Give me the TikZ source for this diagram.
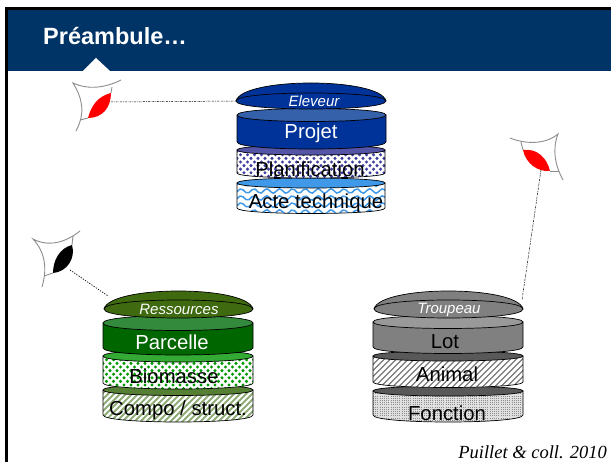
\documentclass[tikz,border=0pt]{standalone}
\usepackage{fontspec}
\setmainfont{Liberation Sans}
\newfontfamily\timesfont{Liberation Serif}
\definecolor{headblue}{HTML}{003366}
\definecolor{blueA}{HTML}{003399}
\definecolor{blueB}{HTML}{3560AA}
\definecolor{blueC}{HTML}{5555A8}
\definecolor{dotblue}{HTML}{3F3FA0}
\definecolor{waveblue}{HTML}{3F99E8}
\definecolor{oliveA}{HTML}{3F6A10}
\definecolor{greenA}{HTML}{006600}
\definecolor{greenB}{HTML}{338A3C}
\definecolor{greenC}{HTML}{33AA33}
\definecolor{dotgreen}{HTML}{009900}
\definecolor{oliveB}{HTML}{558033}
\definecolor{hatchgreen}{HTML}{8FAC78}
\definecolor{greyA}{HTML}{808080}
\definecolor{greyB}{HTML}{999999}
\definecolor{greyC}{HTML}{595959}
\tikzset{
  disclabel/.style={inner sep=0pt,font=\fontsize{20.3}{22}\selectfont},
  lenslabel/.style={inner sep=0pt,text=white,font=\fontsize{15}{17}\itshape\selectfont},
  rim/.style={draw=black,line width=0.7pt},
  eyeline/.style={draw=black!45,line width=0.9pt},
  dashdotlink/.style={draw=black,line width=0.5pt,dash pattern=on 2pt off 1pt on 0.6pt off 1pt},
  dotlink/.style={draw=black,line width=0.7pt,dash pattern=on 1.2pt off 1.4pt}
}
% x0 x1 yc ry yside rybottom bodyfill topfill patterncode
\newcommand{\stackdisc}[9]{%
  \pgfmathsetmacro{\kt}{4/3*#4}%
  \pgfmathsetmacro{\kb}{4/3*#6}%
  \pgfmathsetmacro{\xl}{#1}\pgfmathsetmacro{\xr}{#2}%
  \pgfmathsetmacro{\yup}{#3-#4-1}\pgfmathsetmacro{\ylow}{#5+#6+1}%
  \fill[#7] (#1,#3) -- (#1,#5) .. controls (#1,#5+\kb) and (#2,#5+\kb) .. (#2,#5) -- (#2,#3) -- cycle;
  \begin{scope}
    \clip (#1,#3) -- (#1,#5) .. controls (#1,#5+\kb) and (#2,#5+\kb) .. (#2,#5) -- (#2,#3) -- cycle;
    #9
  \end{scope}
  \draw[rim] (#1,#3) -- (#1,#5) .. controls (#1,#5+\kb) and (#2,#5+\kb) .. (#2,#5) -- (#2,#3);
  \draw[rim,fill=#8] (#1,#3) .. controls (#1,#3-\kt) and (#2,#3-\kt) .. (#2,#3) .. controls (#2,#3+\kt) and (#1,#3+\kt) .. (#1,#3) -- cycle;
}
% x0 x1 yc ryinner fill
\newcommand{\stacklens}[5]{%
  \pgfmathsetmacro{\kt}{4/3*#4}\pgfmathsetmacro{\kl}{4/3*18}%
  \draw[rim,fill=#5] (#1,#3) .. controls (#1+6,#3-\kl) and (#2-6,#3-\kl) .. (#2,#3) .. controls (#2,#3+\kt) and (#1,#3+\kt) .. (#1,#3) -- cycle;
  \draw[rim] (#1,#3) .. controls (#1,#3-\kt) and (#2,#3-\kt) .. (#2,#3);
}
\newcommand{\dotpat}[1]{%
  \foreach \r in {0,...,12}{\foreach \c in {0,...,22}{
    \pgfmathsetmacro{\px}{\xl+\c*7+mod(\r,2)*3.5}\pgfmathsetmacro{\py}{\yup+\r*3.6}
    \fill[#1] (\px,\py) circle[radius=1.7];}}}
\newcommand{\wavepat}{%
  \foreach \r in {0,...,5}{
    \pgfmathsetmacro{\py}{\yup+\r*7}
    \draw[waveblue,line width=1.5pt] plot[smooth,samples=50,domain=\xl:\xr] (\x,{\py+2.2*sin(\x*28)});}}
\newcommand{\hatchpat}[2]{%
  \foreach \c in {-12,...,40}{
    \draw[#1,line width=#2] (\xl+\c*6,\ylow) -- (\xl+\c*6+50,\ylow-50);}}
\newcommand{\gridpat}{%
  \foreach \r in {0,...,18}{
    \draw[black!45,line width=0.9pt,dash pattern=on 1pt off 1.2pt] (\xl,\yup+\r*2.2) -- (\xr,\yup+\r*2.2);}}
\begin{document}
\begin{tikzpicture}[x=1pt,y=-1pt]
\useasboundingbox (0,0) rectangle (611,462);
\fill[white] (0,0) rectangle (611,462);
% header
\fill[headblue] (6,8) rectangle (611,71);
\fill[black] (5,7) rectangle (611,10);
\fill[black] (5,7) rectangle (8,462);
\node[anchor=west,inner sep=0pt,text=white,font=\fontsize{23.5}{25}\bfseries\selectfont] (title) at (43,36) {Préambule…};
\fill[white] (83,71) -- (96,58) -- (110,71) -- cycle;

% Eleveur stack
\stackdisc{237}{385}{183}{5}{208}{5.5}{white}{waveblue}{\wavepat}
\stackdisc{237}{385}{150}{5}{173}{5}{white}{blueC}{\dotpat{dotblue}}
\stackdisc{237}{386}{115}{6.5}{142}{7}{blueA}{blueB}{}
\stacklens{236}{386}{101}{8}{blueA}
\node[lenslabel] (eleveur) at (314,101) {Eleveur};
\coordinate (eleveurleft) at (236,101);
\node[disclabel,text=white] (projet) at (311,133) {Projet};
\node[disclabel,text=black] (planif) at (310,169) {Planification};
\node[disclabel,text=black] (acte) at (316,203) {Acte technique};

% Ressources stack
\stackdisc{103}{253}{390}{5.5}{415}{7}{white}{oliveB}{\hatchpat{hatchgreen}{1.8pt}}
\stackdisc{103}{253}{356}{6}{383}{6}{white}{greenC}{\dotpat{dotgreen}}
\stackdisc{103}{253}{323}{7.5}{348}{7}{greenA}{greenB}{}
\stacklens{104}{253}{309}{9}{oliveA}
\node[lenslabel] (ressources) at (179,309.5) {Ressources};
\coordinate (ressourcesleft) at (108,296);
\node[disclabel,text=white] (parcelle) at (172,342) {Parcelle};
\node[disclabel,text=black] (biomasse) at (174,376) {Biomasse};
\node[disclabel,text=black] (compo) at (178,410) {Compo / struct.};

% Troupeau stack
\stackdisc{373}{523}{391}{5}{415}{7}{black!12}{greyC}{\gridpat}
\stackdisc{373}{523}{356}{5}{382}{5.5}{white}{greyC}{\hatchpat{greyC!80}{1.4pt}}
\stackdisc{373}{523}{322}{6.5}{347}{6.5}{greyA}{greyB}{}
\stacklens{374}{523}{309}{9}{greyA}
\node[lenslabel] (troupeau) at (449,309.5) {Troupeau};
\coordinate (troupeauright) at (522,300);
\node[disclabel,text=black] (lot) at (445,342) {Lot};
\node[disclabel,text=black] (animal) at (447,374) {Animal};
\node[disclabel,text=black] (fonction) at (447,413) {Fonction};

% eye 1 (red, left)
\fill[red] (111,93) .. controls (98,96) and (91,106) .. (88,118) .. controls (102,118) and (111,108) .. (111,93) -- cycle;
\draw[eyeline] (121,80) .. controls (105,88) and (88,90) .. (73,83) .. controls (82,98) and (86,112) .. (76,131);
\draw[eyeline] (112,87) -- (111,93);
\draw[eyeline] (80,120) -- (88,118);
\coordinate (eyeAout) at (111,102);

% eye 2 (red, right)
\fill[red] (523,150) .. controls (537,148) and (547,158) .. (550,171) .. controls (538,172) and (526,164) .. (523,150) -- cycle;
\draw[eyeline] (510,138) .. controls (525,144) and (545,145) .. (558,134) .. controls (552,150) and (555,165) .. (563,180);
\draw[eyeline] (521,142) -- (523,150);
\draw[eyeline] (550,171) -- (559,171);
\coordinate (eyeBout) at (541,170);

% eye 3 (black)
\fill[black] (72,245) .. controls (60,248) and (53,260) .. (53,273) .. controls (67,272) and (76,258) .. (72,245) -- cycle;
\draw[eyeline] (80,231) .. controls (65,243) and (48,247) .. (33,239) .. controls (46,253) and (47,270) .. (42,287);
\draw[eyeline] (73,236) -- (72,245);
\draw[eyeline] (44,276) -- (53,273);
\coordinate (eyeCout) at (70,270);

% links
\draw[dashdotlink] (eyeAout) -- (eleveurleft);
\draw[dashdotlink] (eyeBout) -- (troupeauright);
\draw[dotlink] (eyeCout) -- (ressourcesleft);

\node[anchor=east,inner sep=0pt,font=\fontsize{18.5}{20}\timesfont\itshape\selectfont] (credit) at (607,452) {Puillet \& coll. 2010};
\end{tikzpicture}
\end{document}
